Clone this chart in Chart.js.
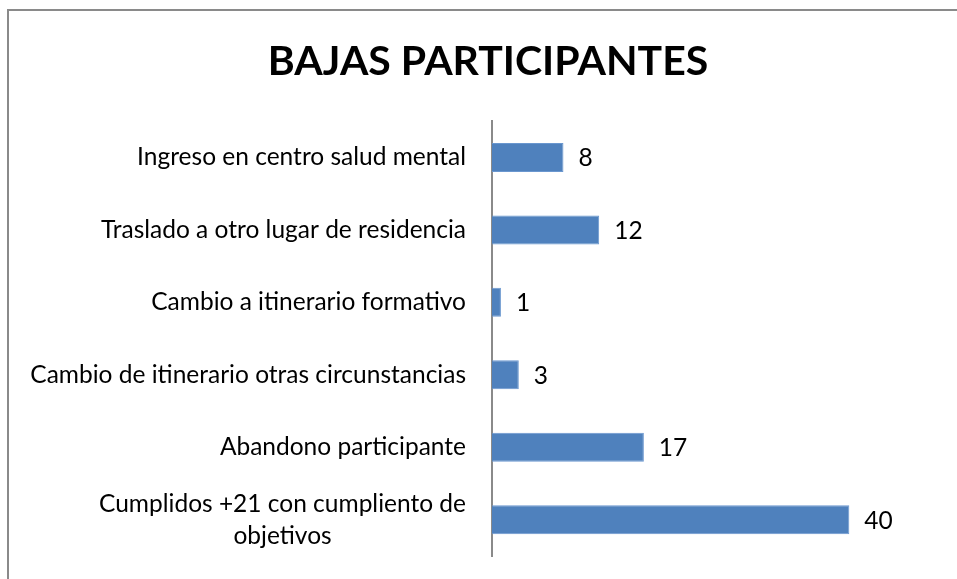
<!DOCTYPE html>
<html>
<head>
<meta charset="utf-8">
<script src="https://cdn.jsdelivr.net/npm/chart.js@4"></script>
<style>
  html, body { margin: 0; padding: 0; background: #fff; }
  #wrap { width: 957px; height: 579px; }
</style>
</head>
<body>
<div id="wrap"><canvas id="grafico"></canvas></div>
<script>
const categorias = [
  'Ingreso en centro salud mental',
  'Traslado a otro lugar de residencia',
  'Cambio a itinerario formativo',
  'Cambio de itinerario otras circunstancias',
  'Abandono participante',
  ['Cumplidos +21 con cumpliento de', 'objetivos']
];
const bajas = [8, 12, 1, 3, 17, 40];
const titulo = 'BAJAS PARTICIPANTES';

const fuente = 'Lato, "Open Sans", sans-serif';

// marco gris del gráfico
const marco = {
  id: 'marco',
  beforeDraw(chart) {
    const ctx = chart.ctx;
    ctx.save();
    ctx.strokeStyle = '#8a8a8a';
    ctx.lineWidth = 2;
    ctx.strokeRect(8, 10, 2000, 2000);
    ctx.restore();
  }
};

// etiquetas de categoría (alineadas a la derecha, líneas centradas entre sí)
const etiquetas = {
  id: 'etiquetas',
  afterDraw(chart) {
    const ctx = chart.ctx;
    const y = chart.scales.y;
    const borde = y.right - 26;
    ctx.save();
    ctx.font = '24.5px ' + fuente;
    ctx.fillStyle = '#000';
    ctx.textBaseline = 'middle';
    ctx.textAlign = 'center';
    const alto = 32;
    categorias.forEach((c, i) => {
      const lineas = Array.isArray(c) ? c : [c];
      const ancho = Math.max(...lineas.map(l => ctx.measureText(l).width));
      const cy = y.getPixelForValue(i);
      const y0 = cy - (lineas.length - 1) * alto / 2;
      lineas.forEach((l, k) => {
        ctx.fillText(l, borde - ancho / 2, y0 + k * alto);
      });
    });
    ctx.restore();
  }
};

// valores al final de cada barra
const valores = {
  id: 'valores',
  afterDatasetsDraw(chart) {
    const ctx = chart.ctx;
    const meta = chart.getDatasetMeta(0);
    ctx.save();
    ctx.font = '24.5px ' + fuente;
    ctx.fillStyle = '#000';
    ctx.textBaseline = 'middle';
    ctx.textAlign = 'left';
    meta.data.forEach((bar, i) => {
      ctx.fillText(String(bajas[i]), bar.x + 15, bar.y + 1);
    });
    ctx.restore();
  }
};

new Chart(document.getElementById('grafico'), {
  type: 'bar',
  data: {
    labels: categorias,
    datasets: [{
      data: bajas,
      backgroundColor: '#4f81bd',
      borderColor: '#6a97cf',
      borderWidth: 1,
      barPercentage: 0.4,
      categoryPercentage: 1
    }]
  },
  options: {
    indexAxis: 'y',
    responsive: true,
    maintainAspectRatio: false,
    animation: false,
    layout: { padding: { left: 82, right: 63, top: 0, bottom: 23 } },
    plugins: {
      legend: { display: false },
      tooltip: { enabled: false },
      title: {
        display: true,
        text: titulo,
        color: '#000',
        font: { family: fuente, size: 41, weight: 'bold' },
        padding: { top: 37, bottom: 35 }
      }
    },
    scales: {
      x: { display: false, min: 0, max: 45 },
      y: {
        afterFit(scale) { scale.width = 410; },
        grid: { display: false, drawTicks: false },
        border: { display: true, color: '#8a8a8a', width: 2 },
        ticks: { display: false }
      }
    }
  },
  plugins: [marco, etiquetas, valores]
});
</script>
</body>
</html>
